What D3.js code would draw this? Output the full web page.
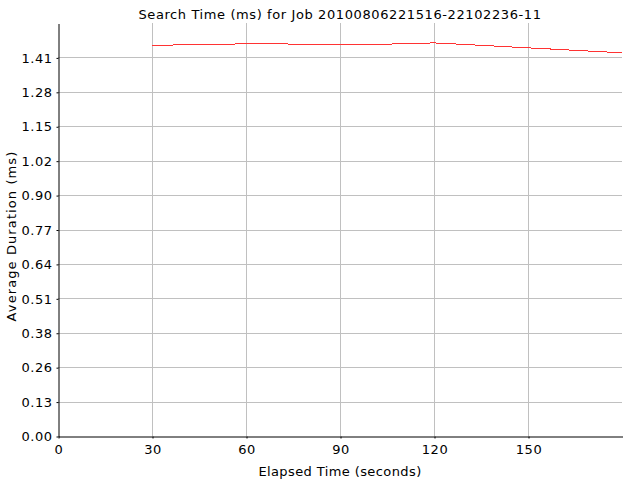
<!DOCTYPE html>
<html>
<head>
<meta charset="utf-8">
<script src="https://cdn.jsdelivr.net/npm/d3@7"></script>
<style>
  html, body { margin: 0; padding: 0; background: #fff; }
  svg { display: block; font-family: "DejaVu Sans", Verdana, sans-serif; }
</style>
</head>
<body>
<svg id="chart" width="640" height="480"></svg>
<script>
const chartTitle = "Search Time (ms) for Job 20100806221516-22102236-11";
const xLabel = "Elapsed Time (seconds)";
const yLabel = "Average Duration (ms)";

const elapsedSeconds = [30, 40, 50, 60, 70, 80, 90, 100, 110, 120, 130, 140, 150, 160, 170, 180];
const avgDurationMs  = [1.4528, 1.4565, 1.4573, 1.4599, 1.4599, 1.4573, 1.4562, 1.4573, 1.4599, 1.4632,
                        1.4572, 1.4510, 1.4447, 1.4387, 1.4324, 1.4263];

const xTicks = [0, 30, 60, 90, 120, 150];
const yTickStep = 0.1281;
const yTickCount = 12; // labelled ticks 0..11
const xDomain = [0, 180];
const yDomain = [0, yTickStep * 12];

const W = 640, H = 480;
const m = { top: 23, right: 18, bottom: 44, left: 58 };
const svg = d3.select("#chart");

const x = d3.scaleLinear().domain(xDomain).range([m.left, W - m.right]);
const y = d3.scaleLinear().domain(yDomain).range([H - m.bottom, m.top]);
const yTicks = d3.range(yTickCount).map(i => i * yTickStep);

// gridlines
svg.append("g")
  .selectAll("line")
  .data(yTicks.filter(v => v > 0))
  .join("line")
  .attr("x1", m.left).attr("x2", W - m.right)
  .attr("y1", d => Math.round(y(d)) + 0.5).attr("y2", d => Math.round(y(d)) + 0.5)
  .attr("stroke", "#c0c0c0").attr("stroke-width", 1);

svg.append("g")
  .selectAll("line")
  .data(xTicks.filter(v => v > 0))
  .join("line")
  .attr("x1", d => Math.round(x(d)) + 0.5).attr("x2", d => Math.round(x(d)) + 0.5)
  .attr("y1", m.top).attr("y2", H - m.bottom)
  .attr("stroke", "#c0c0c0").attr("stroke-width", 1);

// data line
const line = d3.line().x(d => x(d[0])).y(d => y(d[1]));
svg.append("path")
  .datum(elapsedSeconds.map((t, i) => [t, avgDurationMs[i]]))
  .attr("d", line)
  .attr("fill", "none")
  .attr("stroke", "#ff3333")
  .attr("stroke-width", 1)
  .attr("shape-rendering", "crispEdges");

// axes
const xAxis = d3.axisBottom(x).tickValues(xTicks).tickSize(2).tickSizeOuter(0).tickPadding(6)
  .tickFormat(d3.format("d"));
const gx = svg.append("g")
  .attr("transform", `translate(0.5,${Math.round(y(0)) + 0.5})`)
  .call(xAxis);

const yAxis = d3.axisLeft(y).tickValues(yTicks).tickSize(2).tickSizeOuter(0).tickPadding(4)
  .tickFormat(d3.format(".2f"));
const gy = svg.append("g")
  .attr("transform", `translate(${m.left + 0.5},0.5)`)
  .call(yAxis);

[gx, gy].forEach(g => {
  g.select(".domain").attr("stroke", "#000");
  g.selectAll(".tick line").attr("stroke", "#000");
  g.selectAll(".tick text").attr("fill", "#000").attr("font-size", 13)
    .attr("letter-spacing", 0.5)
    .attr("font-family", "DejaVu Sans, sans-serif");
});

// title and axis labels
svg.append("text")
  .attr("x", (m.left + W - m.right) / 2).attr("y", 19)
  .attr("text-anchor", "middle").attr("font-size", 13).attr("letter-spacing", 0.6)
  .attr("fill", "#000")
  .text(chartTitle);

svg.append("text")
  .attr("x", (m.left + W - m.right) / 2).attr("y", 476)
  .attr("text-anchor", "middle").attr("font-size", 13).attr("letter-spacing", 0.4)
  .attr("fill", "#000")
  .text(xLabel);

svg.append("text")
  .attr("transform", "translate(16,236) rotate(-90)")
  .attr("text-anchor", "middle").attr("font-size", 13).attr("letter-spacing", 1.1)
  .attr("fill", "#000")
  .text(yLabel);
</script>
</body>
</html>
